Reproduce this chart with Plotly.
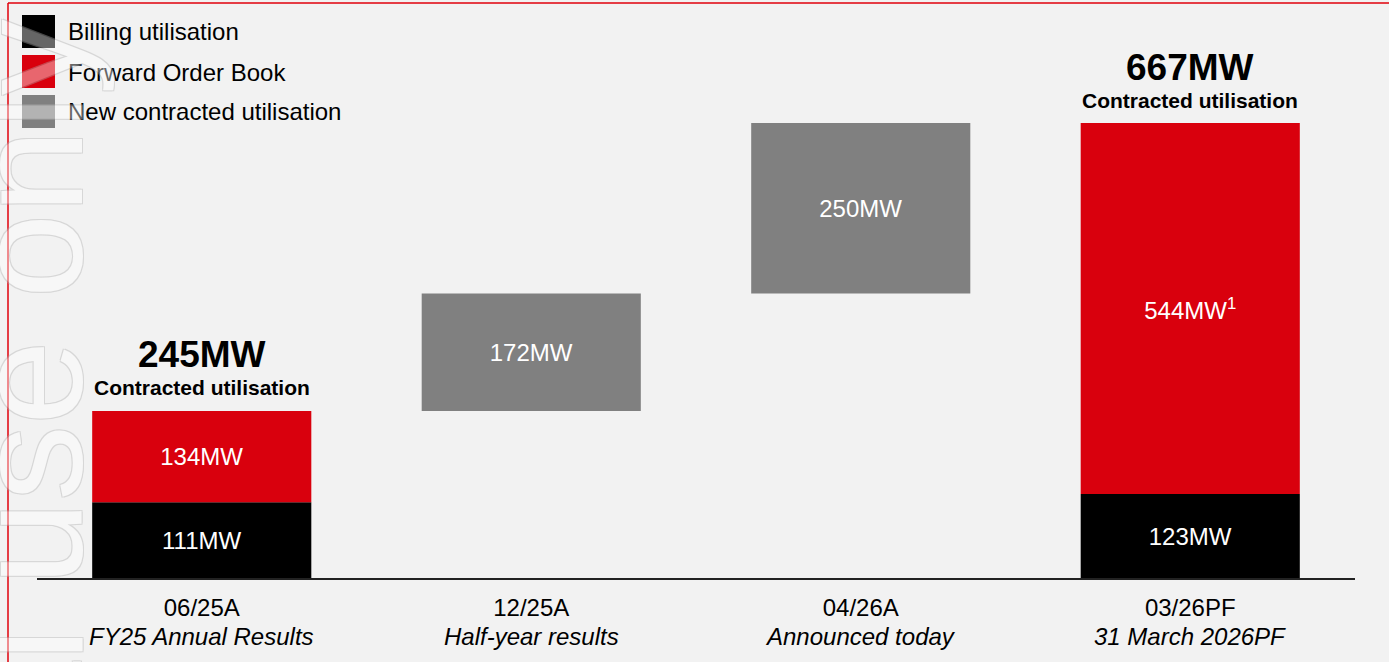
import plotly.graph_objects as go

# ---- data ----
periods = ["06/25A", "12/25A", "04/26A", "03/26PF"]
period_desc = ["FY25 Annual Results", "Half-year results", "Announced today", "31 March 2026PF"]
billing = [111, None, None, 123]
forward_order = [134, None, None, 544]
new_contracted = [None, 172, 250, None]
totals = [245, None, None, 667]
series_names = ["Billing utilisation", "Forward Order Book", "New contracted utilisation"]
footnote_idx = 3  # 544MW carries footnote 1

BLACK = "#000000"
RED = "#d9000d"
GRAY = "#808080"
BG = "#f2f2f2"
FONT = "Liberation Sans, Arial, sans-serif"

W, H = 1389, 662
ML, MR, MT, MB = 37, 34, 0, 84
PW, PH = W - ML - MR, H - MT - MB


def px_x(px):
    return (px - ML) / PW


def px_y(py):
    return (H - MB - py) / PH


x = list(range(len(periods)))

red_base = list(billing)
gray_base = []
running = 0
for i in range(len(periods)):
    if new_contracted[i] is None:
        gray_base.append(None)
        if totals[i] is not None:
            running = totals[i]
    else:
        gray_base.append(running)
        running += new_contracted[i]


def lab(v, i=None):
    if v is None:
        return ""
    s = f"{v}MW"
    if i == footnote_idx:
        s += "<sup>1</sup>"
    return s


fig = go.Figure()
common = dict(width=0.665, textposition="inside", insidetextanchor="middle",
              textangle=0, constraintext="none",
              textfont=dict(color="white", size=24, family=FONT),
              hoverinfo="skip", showlegend=False)
fig.add_trace(go.Bar(x=x, y=billing, base=[0]*4, marker=dict(color=BLACK, line_width=0),
                     text=[lab(v) for v in billing], name=series_names[0], **common))
fig.add_trace(go.Bar(x=x, y=forward_order, base=red_base, marker=dict(color=RED, line_width=0),
                     text=[lab(v, i) for i, v in enumerate(forward_order)], name=series_names[1], **common))
fig.add_trace(go.Bar(x=x, y=new_contracted, base=gray_base, marker=dict(color=GRAY, line_width=0),
                     text=[lab(v) for v in new_contracted], name=series_names[2], **common))

annotations = []
shapes = []

# totals above bars
for i, t in enumerate(totals):
    if t is None:
        continue
    annotations.append(dict(x=i, y=t, xref="x", yref="y", text=f"<b>{t}MW</b>", showarrow=False,
                            yshift=56, font=dict(size=37, color="black", family=FONT)))
    annotations.append(dict(x=i, y=t, xref="x", yref="y", text="<b>Contracted utilisation</b>",
                            showarrow=False, yshift=23, font=dict(size=21, color="black", family=FONT)))

# second (italic) line of the category labels
for i, d in enumerate(period_desc):
    annotations.append(dict(x=i, y=px_y(636), xref="x", yref="paper", text=f"<i>{d}</i>",
                            showarrow=False, yanchor="middle",
                            font=dict(size=24, color="black", family=FONT)))

# manual legend
leg_colors = [BLACK, RED, GRAY]
for k, (nm, col) in enumerate(zip(series_names, leg_colors)):
    top = 15 + 40 * k
    shapes.append(dict(type="rect", xref="paper", yref="paper", x0=px_x(22), x1=px_x(55),
                       y0=px_y(top + 33), y1=px_y(top), fillcolor=col, line_width=0, layer="above"))
    annotations.append(dict(x=px_x(66), y=px_y(top + 17), xref="paper", yref="paper", text=nm,
                            showarrow=False, xanchor="left", yanchor="middle",
                            font=dict(size=24, color="black", family=FONT)))

# red frame lines
shapes.append(dict(type="line", xref="paper", yref="paper", x0=px_x(8), x1=px_x(W),
                   y0=px_y(3), y1=px_y(3), line=dict(color="#e0000b", width=1.5)))
shapes.append(dict(type="line", xref="paper", yref="paper", x0=px_x(8), x1=px_x(8),
                   y0=px_y(3), y1=px_y(H), line=dict(color="#e0000b", width=1.5)))

# watermark
sh = "#b0b0b0"
annotations.append(dict(x=px_x(29), y=px_y(750), xref="paper", yref="paper",
                        text="For personal use only", showarrow=False, textangle=-90,
                        xanchor="center", yanchor="middle", opacity=0.4,
                        font=dict(size=152, color="#ffffff", family=FONT,
                                  shadow=f"1px 1px 0 {sh}, -1px -1px 0 {sh}, 1px -1px 0 {sh}, -1px 1px 0 {sh}")))

fig.update_layout(
    width=W, height=H,
    margin=dict(l=ML, r=MR, t=MT, b=MB),
    paper_bgcolor=BG, plot_bgcolor=BG,
    barmode="overlay",
    showlegend=False,
    xaxis=dict(range=[-0.5, 3.5], tickvals=x, ticktext=periods,
               showline=True, linecolor="#222222", linewidth=1.5, showgrid=False, zeroline=False,
               ticks="", ticklabelstandoff=7,
               tickfont=dict(size=24, color="black", family=FONT), fixedrange=True),
    yaxis=dict(range=[0, 847.5], visible=False, showgrid=False, zeroline=False, fixedrange=True),
    annotations=annotations,
    shapes=shapes,
)

fig.write_html("out.html", config={"displayModeBar": False},
               post_script="document.body.style.margin='0px';")
